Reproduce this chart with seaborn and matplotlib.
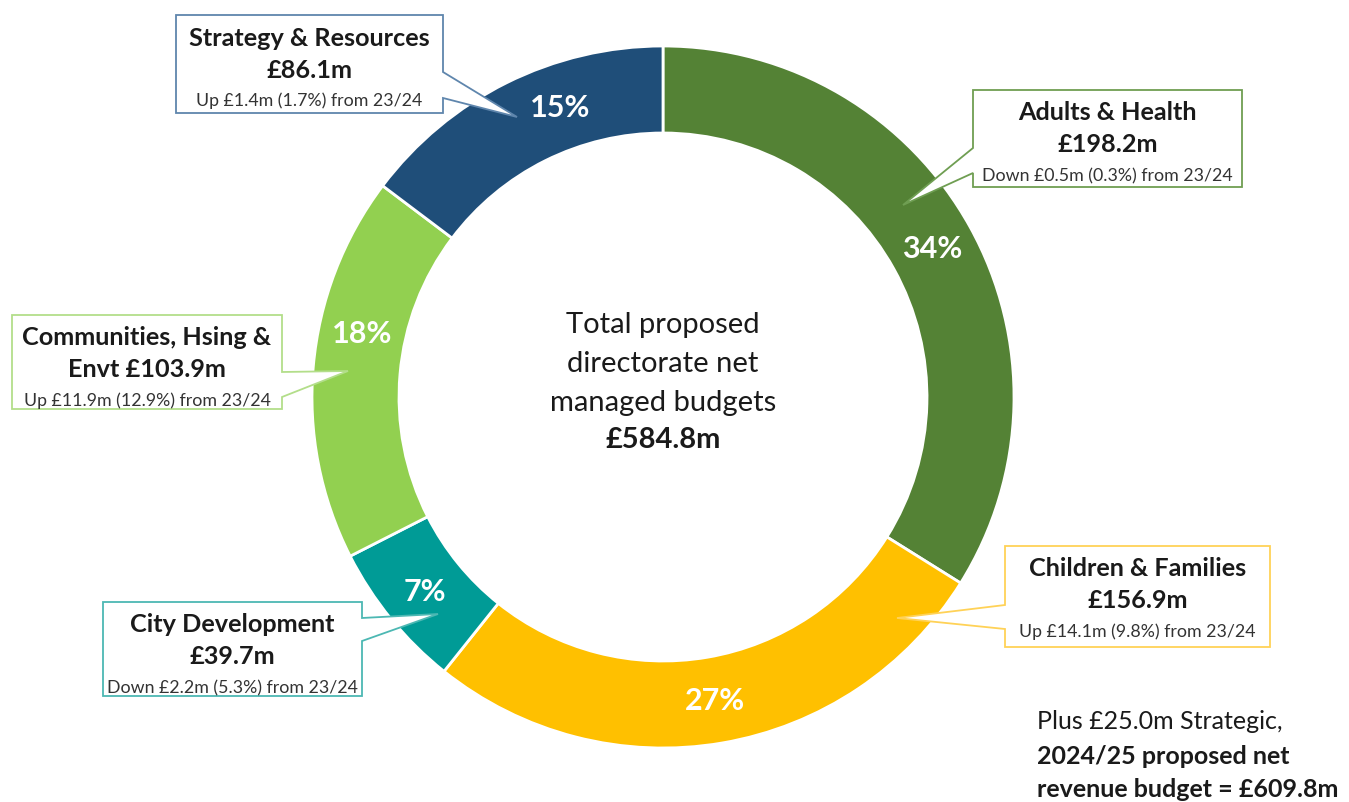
import matplotlib
matplotlib.use("Agg")
import matplotlib.pyplot as plt
from matplotlib.patches import Polygon
import numpy as np
import seaborn as sns

# Directorate net managed budgets 2024/25 (£m), clockwise from 12 o'clock
directorates = ["Adults & Health", "Children & Families", "City Development",
                "Communities, Hsing & Envt", "Strategy & Resources"]
budgets = [198.2, 156.9, 39.7, 103.9, 86.1]
changes = ["Down £0.5m (0.3%) from 23/24", "Up £14.1m (9.8%) from 23/24",
           "Down £2.2m (5.3%) from 23/24", "Up £11.9m (12.9%) from 23/24",
           "Up £1.4m (1.7%) from 23/24"]
strategic = 25.0
total_label = "£584.8m"
overall_label = "£609.8m"

sns.set_theme(style="white")
plt.rcParams["font.family"] = ["Lato", "DejaVu Sans"]

ring_colors = ["#548235", "#FFC000", "#009B96", "#92D050", "#1F4E79"]
edge_colors = ["#6F9E52", "#FFD257", "#4CB8B3", "#B3DE8A", "#5F86AD"]

W, H = 1349, 803
fig = plt.figure(figsize=(W / 100, H / 100), dpi=100)
ax = fig.add_axes([0, 0, 1, 1])


def Y(y):
    # layout coordinates measured from the top edge
    return H - y


cx, cy, R, ring = 663, Y(398), 351, 87
wedges, _ = ax.pie(budgets, colors=ring_colors, startangle=90, counterclock=False,
                   center=(cx, cy), radius=R, frame=True,
                   wedgeprops=dict(width=ring, edgecolor="white", linewidth=2))
ax.set_xlim(0, W)
ax.set_ylim(0, H)
ax.set_aspect("equal")
ax.axis("off")

# percentage labels along the middle of the ring
total = sum(budgets)
nudge = [0, 0, 0, -7, -7]
for w, v, d in zip(wedges, budgets, nudge):
    ang = np.deg2rad((w.theta1 + w.theta2) / 2 + d)
    rm = R - ring / 2
    ax.text(cx + rm * np.cos(ang), cy + rm * np.sin(ang), f"{round(v / total * 100)}%",
            ha="center", va="center", color="white", fontsize=22, fontweight="bold", zorder=5)

# callout boxes: (left, top, right, bottom), tail side, tail (base1, tip, base2)
boxes = [
    ((973, 91, 1242, 188), "left", (149, (903, 206), 174)),
    ((1005, 547, 1270, 648), "left", (606, (897, 619), 630)),
    ((103, 603, 362, 697), "right", (619, (438, 615), 642)),
    ((12, 316, 282, 410), "right", (373, (348, 372), 398)),
    ((176, 16, 443, 114), "right", (73, (517, 118), 99)),
]
title_lines = [
    ["Adults & Health", "£198.2m"],
    ["Children & Families", "£156.9m"],
    ["City Development", "£39.7m"],
    ["Communities, Hsing &", "Envt £103.9m"],
    ["Strategy & Resources", "£86.1m"],
]
for (box, side, tail), ec, lines, chg in zip(boxes, edge_colors, title_lines, changes):
    l, t, r, b = box
    b1, tip, b2 = tail
    if side == "right":
        pts = [(l, t), (r, t), (r, b1), tip, (r, b2), (r, b), (l, b)]
    else:
        pts = [(l, t), (r, t), (r, b), (l, b), (l, b2), tip, (l, b1)]
    poly = Polygon([(x, Y(y)) for x, y in pts], closed=True, facecolor="white",
                   edgecolor=ec, linewidth=1.3, zorder=6)
    ax.add_patch(poly)
    mx = (l + r) / 2
    ax.text(mx, Y(t + 22), lines[0], ha="center", va="center", fontsize=18.2,
            fontweight="bold", color="#1a1a1a", zorder=7)
    ax.text(mx, Y(t + 54), lines[1], ha="center", va="center", fontsize=18.2,
            fontweight="bold", color="#1a1a1a", zorder=7)
    ax.text(mx, Y(t + 85), chg, ha="center", va="center", fontsize=12.8,
            color="#333333", zorder=7)

# centre caption
for i, s in enumerate(["Total proposed", "directorate net", "managed budgets"]):
    ax.text(cx, Y(325 + 39 * i), s, ha="center", va="center", fontsize=21, color="#1a1a1a")
ax.text(cx, Y(440), total_label, ha="center", va="center", fontsize=21,
        fontweight="bold", color="#1a1a1a")

# overall budget note
ax.text(1037, Y(722), f"Plus £{strategic:.1f}m Strategic,", ha="left", va="center",
        fontsize=18, color="#1a1a1a")
ax.text(1037, Y(757), "2024/25 proposed net", ha="left", va="center",
        fontsize=18, fontweight="bold", color="#1a1a1a")
ax.text(1037, Y(790), f"revenue budget = {overall_label}", ha="left", va="center",
        fontsize=18, fontweight="bold", color="#1a1a1a")

fig.savefig("out.png", dpi=100, facecolor="white")
